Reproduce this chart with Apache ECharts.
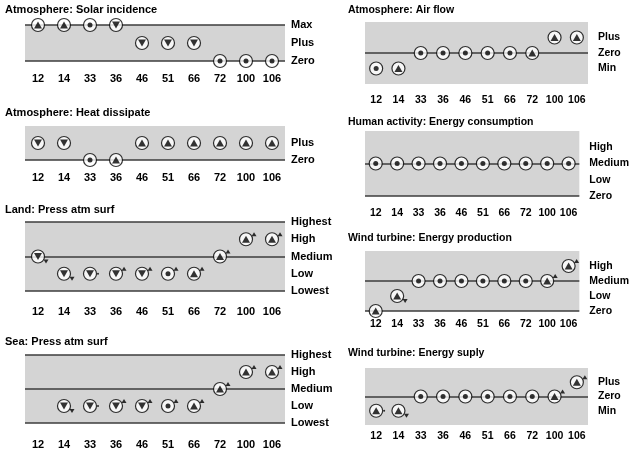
<!DOCTYPE html>
<html>
<head>
<meta charset="utf-8">
<script src="https://cdn.jsdelivr.net/npm/echarts@6/dist/echarts.min.js"></script>
</head>
<body style="margin:0">
<div id="container" style="width:632px;height:450px;"></div>
<script>
var categories = ['12','14','33','36','46','51','66','72','100','106'];

// levels are listed low -> high, value = index in the list
var solarLevels = ['Zero','Plus','Max'];
var solarValues = ['Max','Max','Max','Max','Plus','Plus','Plus','Zero','Zero','Zero'];
var solarMarks  = ['up','up','dot','down','down','down','down','dot','dot','dot'];
var solarSub    = ['','','','','','','','','',''];

var heatLevels = ['Zero','Plus'];
var heatValues = ['Plus','Plus','Zero','Zero','Plus','Plus','Plus','Plus','Plus','Plus'];
var heatMarks  = ['down','down','dot','up','up','up','up','up','up','up'];
var heatSub    = ['','','','','','','','','',''];

var landLevels = ['Lowest','Low','Medium','High','Highest'];
var landValues = ['Medium','Low','Low','Low','Low','Low','Low','Medium','High','High'];
var landMarks  = ['down','down','down','down','down','dot','up','up','up','up'];
var landSub    = ['down','down','dot','up','up','up','up','up','up','up'];

var seaLevels = ['Lowest','Low','Medium','High','Highest'];
var seaValues = [null,'Low','Low','Low','Low','Low','Low','Medium','High','High'];
var seaMarks  = [null,'down','down','down','down','dot','up','up','up','up'];
var seaSub    = ['','down','dot','up','up','up','up','up','up','up'];

var airLevels = ['Min','Zero','Plus'];
var airValues = ['Min','Min','Zero','Zero','Zero','Zero','Zero','Zero','Plus','Plus'];
var airMarks  = ['dot','up','dot','dot','dot','dot','dot','up','up','up'];
var airSub    = ['','','','','','','','','',''];

var humanLevels = ['Zero','Low','Medium','High'];
var humanValues = ['Medium','Medium','Medium','Medium','Medium','Medium','Medium','Medium','Medium','Medium'];
var humanMarks  = ['dot','dot','dot','dot','dot','dot','dot','dot','dot','dot'];
var humanSub    = ['','','','','','','','','',''];

var prodLevels = ['Zero','Low','Medium','High'];
var prodValues = ['Zero','Low','Medium','Medium','Medium','Medium','Medium','Medium','Medium','High'];
var prodMarks  = ['up','up','dot','dot','dot','dot','dot','dot','up','up'];
var prodSub    = ['','down','','','','','','','up','up'];

var suplyLevels = ['Min','Zero','Plus'];
var suplyValues = ['Min','Min','Zero','Zero','Zero','Zero','Zero','Zero','Zero','Plus'];
var suplyMarks  = ['up','up','dot','dot','dot','dot','dot','dot','up','up'];
var suplySub    = ['dot','down','','','','','','','up','up'];

var panels = [
  {title:'Atmosphere: Solar incidence', levels:solarLevels, values:solarValues, marks:solarMarks, sub:solarSub,
   lines:['Zero','Max'], min:0, max:2, left:25, top:25, width:260, height:36, tx:5, ty:4, fs:11, lm:12, ym:6},
  {title:'Atmosphere: Heat dissipate', levels:heatLevels, values:heatValues, marks:heatMarks, sub:heatSub,
   lines:['Zero'], min:0, max:2, left:25, top:126, width:260, height:34, tx:5, ty:107, fs:11, lm:12, ym:6},
  {title:'Land: Press atm surf', levels:landLevels, values:landValues, marks:landMarks, sub:landSub,
   lines:['Lowest','Medium','Highest'], min:0, max:4, left:25, top:222, width:260, height:69, tx:5, ty:204, fs:11, lm:15, ym:6},
  {title:'Sea: Press atm surf', levels:seaLevels, values:seaValues, marks:seaMarks, sub:seaSub,
   lines:['Lowest','Medium','Highest'], min:0, max:4, left:25, top:355, width:260, height:69, tx:5, ty:336, fs:11, lm:16, ym:6},
  {title:'Atmosphere: Air flow', levels:airLevels, values:airValues, marks:airMarks, sub:airSub,
   lines:['Zero'], min:-1, max:3, left:365, top:22, width:223, height:62, tx:348, ty:5, fs:10.5, lm:11, ym:10},
  {title:'Human activity: Energy consumption', levels:humanLevels, values:humanValues, marks:humanMarks, sub:humanSub,
   lines:['Zero','Medium'], min:0, max:4, left:365, top:131, width:223, height:65, tx:348, ty:117, fs:10.5, lm:12, ym:10},
  {title:'Wind turbine: Energy production', levels:prodLevels, values:prodValues, marks:prodMarks, sub:prodSub,
   lines:['Zero','Medium'], min:0, max:4, left:365, top:251, width:223, height:60, tx:348, ty:233, fs:10.5, lm:8, ym:10},
  {title:'Wind turbine: Energy suply', levels:suplyLevels, values:suplyValues, marks:suplyMarks, sub:suplySub,
   lines:['Zero'], min:-1, max:3, left:365, top:368, width:223, height:57, tx:348, ty:348, fs:10.5, lm:6, ym:10}
];

var font = 'Liberation Sans, Arial, sans-serif';
var grids = [], xAxes = [], yAxes = [], titles = [], series = [];

panels.forEach(function (p, i) {
  titles.push({text:p.title, left:p.tx, top:p.ty, padding:0,
    textStyle:{fontSize:p.fs, fontWeight:'bold', color:'#000', fontFamily:font}});
  grids.push({left:p.left, top:p.top, width:p.width, height:p.height,
    show:true, backgroundColor:'#d4d4d4', borderWidth:0});
  xAxes.push({gridIndex:i, type:'category', data:categories,
    axisLine:{show:false}, axisTick:{show:false},
    axisLabel:{interval:0, margin:p.lm, fontSize:p.fs, fontWeight:'bold', color:'#000', fontFamily:font}});
  yAxes.push({gridIndex:i, type:'value', min:p.min, max:p.max, interval:1, position:'right',
    axisLine:{show:false}, axisTick:{show:false}, splitLine:{show:false},
    axisLabel:{margin:p.ym, fontSize:p.fs, fontWeight:'bold', color:'#000', fontFamily:font,
      formatter:function (v) { return p.levels[v] || ''; }}});

  var ring = [], inner = [], sub = [];
  p.values.forEach(function (name, k) {
    if (!name) return;
    var y = p.levels.indexOf(name);
    ring.push([k, y]);
    var m = p.marks[k];
    if (m === 'dot') inner.push({value:[k, y], symbol:'circle', symbolSize:5});
    else inner.push({value:[k, y], symbol:'triangle', symbolSize:[8, 7], symbolRotate: m === 'down' ? 180 : 0});
    var s = p.sub[k];
    if (s === 'up') sub.push({value:[k, y], symbol:'triangle', symbolSize:[5, 4], symbolOffset:[8, -5]});
    else if (s === 'down') sub.push({value:[k, y], symbol:'triangle', symbolSize:[5, 4], symbolRotate:180, symbolOffset:[8, 5]});
    else if (s === 'dot') sub.push({value:[k, y], symbol:'circle', symbolSize:2, symbolOffset:[8, 0]});
  });

  series.push({type:'scatter', xAxisIndex:i, yAxisIndex:i, data:ring, z:3,
    symbol:'circle', symbolSize:13, silent:true,
    itemStyle:{color:'#fff', borderColor:'#000', borderWidth:1.2},
    markLine:{z:1, silent:true, symbol:'none', label:{show:false},
      lineStyle:{color:'#3c3c3c', width:1.5, type:'solid'},
      data:p.lines.map(function (n) { return {yAxis:p.levels.indexOf(n)}; })}});
  series.push({type:'scatter', xAxisIndex:i, yAxisIndex:i, data:inner, z:4, silent:true,
    itemStyle:{color:'#000'}});
  series.push({type:'scatter', xAxisIndex:i, yAxisIndex:i, data:sub, z:4, silent:true,
    itemStyle:{color:'#000'}});
});

var myChart = echarts.init(document.getElementById('container'));
myChart.setOption({
  animation:false,
  title:titles,
  grid:grids,
  xAxis:xAxes,
  yAxis:yAxes,
  series:series
});
</script>
</body>
</html>
